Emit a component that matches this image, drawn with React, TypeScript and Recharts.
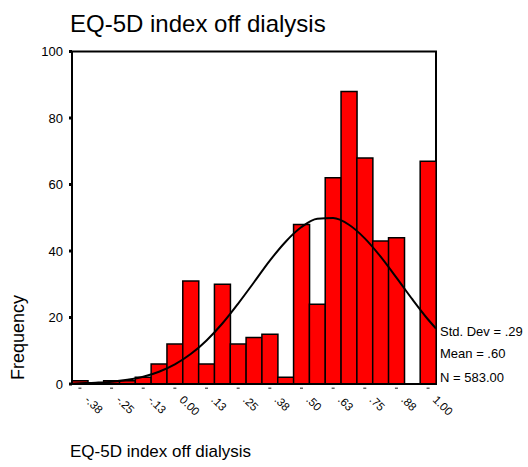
import { ComposedChart, Bar, Line, XAxis, YAxis, ReferenceArea } from 'recharts';

// bin centres, width .0625
const bins = [
  '-.38', '-.31', '-.25', '-.19', '-.13', '-.06', '0.00', '.06', '.13', '.19', '.25', '.31',
  '.38', '.44', '.50', '.56', '.63', '.69', '.75', '.81', '.88', '.94', '1.00',
];
const counts = [1, 0, 1, 1, 2, 6, 12, 31, 6, 30, 12, 14, 15, 2, 48, 24, 62, 88, 68, 43, 44, 0, 67];
const curveX = [
  -0.406, -0.375, -0.3125, -0.25, -0.1875, -0.125, -0.0625, 0, 0.0625, 0.125, 0.1875, 0.25,
  0.3125, 0.375, 0.4375, 0.5, 0.5625, 0.625, 0.6875, 0.75, 0.8125, 0.875, 0.9375, 1.0, 1.031,
];
const curveY = [
  0.1, 0.2, 0.4, 0.7, 1.3, 2.2, 3.7, 5.9, 9.0, 13.1, 18.2, 24.2, 30.6, 37.1, 42.8, 47.2, 49.7,
  49.9, 47.9, 43.8, 38.3, 32.0, 25.5, 19.4, 16.7,
];
const yTicks = [0, 20, 40, 60, 80, 100];
const stats = ['Std. Dev = .29', 'Mean = .60', 'N = 583.00'];

const data = bins.map((bin, i) => ({ bin, count: counts[i] }));
const curveData = curveX.map((x, i) => ({ x, curve: curveY[i] }));

const FONT = '"Liberation Sans", Arial, sans-serif';

const XTick = ({ x, y, payload }: any) => (
  <g>
    <rect x={x - 1.5} y={y + 3.5} width={3} height={1.5} fill="#666" />
    <text
      x={x + 4}
      y={y + 16.5}
      transform={`rotate(45 ${x + 4} ${y + 16.5})`}
      fontSize={11.5}
      fontFamily={FONT}
      fill="#000"
      textAnchor="start"
    >
      {payload.value}
    </text>
  </g>
);

const App = () => {
  return (
    <div style={{ position: 'absolute', left: 0, top: 0, width: 528, height: 467, background: '#fff' }}>
      <ComposedChart
        width={528}
        height={467}
        data={data}
        margin={{ top: 51.5, right: 92, bottom: 53, left: 0 }}
        barCategoryGap={0}
      >
        <ReferenceArea y1={0} y2={100} fill="none" stroke="#000" strokeWidth={2} ifOverflow="visible" />
        <XAxis
          dataKey="bin"
          interval={1}
          height={30}
          tickLine={false}
          tickSize={0}
          tickMargin={0}
          axisLine={{ stroke: '#000', strokeWidth: 2 }}
          tick={<XTick />}
        />
        <XAxis
          xAxisId="num"
          dataKey="x"
          type="number"
          domain={[-0.40625, 1.03125]}
          allowDataOverflow
          hide
        />
        <YAxis
          width={72}
          domain={[0, 100]}
          ticks={yTicks}
          tickSize={3}
          tickMargin={6}
          tickLine={{ stroke: '#000', strokeWidth: 3 }}
          axisLine={{ stroke: '#000', strokeWidth: 2 }}
          tick={{ fill: '#000', fontSize: 13, fontFamily: FONT }}
        />
        <Bar dataKey="count" fill="#ff0000" stroke="#000" strokeWidth={1.5} isAnimationActive={false} />
        <Line
          xAxisId="num"
          data={curveData}
          dataKey="curve"
          type="monotone"
          stroke="#000"
          strokeWidth={2}
          dot={false}
          isAnimationActive={false}
        />
      </ComposedChart>
      <svg
        width={528}
        height={467}
        style={{ position: 'absolute', left: 0, top: 0, pointerEvents: 'none' }}
        fontFamily={FONT}
      >
        <text x={70} y={31.5} fontSize={24} fill="#000">
          EQ-5D index off dialysis
        </text>
        <text x={70} y={456.5} fontSize={17} fill="#000">
          EQ-5D index off dialysis
        </text>
        <text
          x={24}
          y={337.5}
          fontSize={18}
          fill="#000"
          textAnchor="middle"
          transform="rotate(-90 24 337.5)"
        >
          Frequency
        </text>
        {stats.map((s, i) => (
          <text key={s} x={440} y={[336, 358, 381.5][i]} fontSize={13} fill="#000">
            {s}
          </text>
        ))}
      </svg>
    </div>
  );
};

export default App;
